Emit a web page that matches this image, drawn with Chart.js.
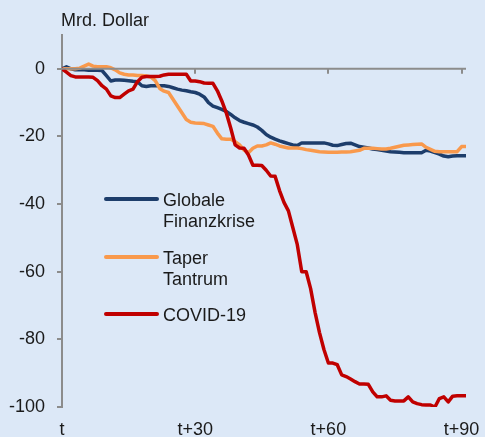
<!DOCTYPE html>
<html>
<head>
<meta charset="utf-8">
<script src="https://cdn.jsdelivr.net/npm/chart.js@4.4.1/dist/chart.umd.min.js"></script>
<style>
  html, body { margin: 0; padding: 0; background: #dce8f7; }
  canvas { display: block; }
</style>
</head>
<body>
<canvas id="chart" width="485" height="437"></canvas>
<script>
// days after the event, t = 0
const days = [
  0,1,2,3,4,5,6,7,8,9,10,11,12,13,14,15,16,17,18,19,20,21,22,23,24,25,26,27,28,29,30,
  31,32,33,34,35,36,37,38,39,40,41,42,43,44,45,46,47,48,49,50,51,52,53,54,55,56,57,58,59,60,
  61,62,63,64,65,66,67,68,69,70,71,72,73,74,75,76,77,78,79,80,81,82,83,84,85,86,87,88,89,90,91
];

// Mrd. Dollar
const finanzkrise = [
  0,0.6,0,-0.3,-0.3,-0.3,-0.4,-0.4,-0.4,-0.5,-2,-3.6,-3.3,-3.3,-3.4,-3.5,-3.7,-3.8,-5,-5.2,-5,
  -5,-5,-5,-5.2,-5.6,-6,-6.3,-6.5,-6.8,-7,-7.5,-8.3,-10,-11,-11.5,-12,-12.6,-13.5,-14.5,-15.3,
  -15.8,-16.2,-16.6,-17.2,-18.2,-19.4,-20.2,-20.8,-21.3,-21.7,-22.1,-22.5,-22.7,-21.9,-21.9,-21.9,-21.9,-21.9,-21.9,-22.2,
  -22.6,-22.7,-22.4,-22.1,-22,-22.5,-23,-23.2,-23.4,-23.7,-23.9,-24.1,-24.3,-24.5,-24.6,-24.7,-24.8,-24.8,-24.8,-24.8,
  -24.8,-24.1,-24.3,-24.8,-25.2,-25.8,-26,-25.8,-25.7,-25.7,-25.7
];

const taperTantrum = [
  0,0,0,0,0.2,0.8,1.4,0.8,0.6,0.6,0.6,0.3,-0.3,-1.2,-1.6,-1.8,-1.8,-2,-2,-2.1,-2.4,
  -3.5,-5.8,-6.6,-7,-9,-11,-13,-15,-15.8,-16,-16.1,-16.2,-16.6,-17,-19,-20.7,-20.8,-20.8,-21.5,-22.5,
  -24,-24.8,-23.5,-22.8,-22.8,-22.5,-21.9,-22.3,-22.8,-23.1,-23.4,-23.4,-23.4,-23.6,-23.9,-24.1,-24.3,-24.5,-24.6,-24.7,
  -24.7,-24.7,-24.6,-24.6,-24.5,-24.3,-24.1,-23.5,-23.5,-23.5,-23.6,-23.7,-23.7,-23.5,-23.2,-22.9,-22.6,-22.5,-22.4,-22.3,
  -22.2,-23.2,-23.8,-24.4,-24.5,-24.5,-24.5,-24.5,-24.5,-23,-23
];

const covid = [
  0,-1,-2,-2.4,-2.4,-2.4,-2.4,-2.5,-3.5,-5,-6,-8,-8.5,-8.5,-7.5,-6.5,-6,-3.8,-2.5,-2.3,-2.3,
  -2.3,-2.2,-1.8,-1.6,-1.6,-1.6,-1.6,-1.6,-3.6,-3.6,-3.8,-4.2,-4.3,-4.3,-6.5,-9.5,-13,-17.5,-22.5,-23.4,
  -23.5,-25.5,-28.5,-28.5,-28.6,-30,-31.7,-31.8,-36,-39.5,-42,-47,-52,-60,-60,-65,-72,-78,-83,-87,
  -87,-87.5,-90.5,-91,-91.7,-92.5,-93.2,-93.2,-93.3,-95.5,-97,-97,-96.7,-98,-98.2,-98.2,-98.2,-97,-98.5,-99,
  -99.3,-99.4,-99.4,-100,-97.5,-97,-98.5,-96.8,-96.7,-96.7,-96.7
];

const xTickDays = [0, 30, 60, 90];
const xTickLabels = ['t', 't+30', 't+60', 't+90'];
const yTicks = [0, -20, -40, -60, -80, -100];

const seriesNames = ['Globale\nFinanzkrise', 'Taper\nTantrum', 'COVID-19'];
const seriesColors = ['#1d3d6b', '#f9994c', '#c00000'];

const AXIS_GREY = '#8c8c8c';
const FONT = '"Liberation Sans", Arial, sans-serif';

function toPoints(values) {
  return values.map((v, i) => ({ x: days[i], y: v }));
}

// x axis line sits on y = 0, title and legend are drawn by hand
const decorations = {
  id: 'decorations',
  afterDatasetsDraw(chart) {
    const ctx = chart.ctx;
    const x = chart.scales.x;
    const y = chart.scales.y;
    const y0 = y.getPixelForValue(0);

    ctx.save();
    ctx.strokeStyle = AXIS_GREY;
    ctx.lineWidth = 2;
    ctx.beginPath();
    ctx.moveTo(x.left, y0);
    ctx.lineTo(x.right, y0);
    xTickDays.slice(1).forEach(d => {
      const px = Math.round(x.getPixelForValue(d));
      ctx.moveTo(px, y0);
      ctx.lineTo(px, y0 + 5);
    });
    ctx.stroke();

    ctx.fillStyle = '#1a1a1a';
    ctx.font = '18px ' + FONT;
    ctx.textAlign = 'left';
    ctx.textBaseline = 'alphabetic';
    ctx.fillText('Mrd. Dollar', 61, 26);

    // legend
    const legendRows = [199, 257, 314];
    seriesNames.forEach((name, i) => {
      const ly = legendRows[i];
      ctx.strokeStyle = seriesColors[i];
      ctx.lineWidth = 4;
      ctx.lineCap = 'round';
      ctx.beginPath();
      ctx.moveTo(106, ly);
      ctx.lineTo(157, ly);
      ctx.stroke();
      ctx.fillStyle = '#1a1a1a';
      name.split('\n').forEach((line, j) => {
        ctx.fillText(line, 163, ly + 7 + j * 21);
      });
    });
    ctx.restore();
  }
};

new Chart(document.getElementById('chart'), {
  type: 'line',
  data: {
    datasets: [
      {
        label: 'Globale Finanzkrise',
        data: toPoints(finanzkrise),
        borderColor: seriesColors[0],
        order: 3
      },
      {
        label: 'Taper Tantrum',
        data: toPoints(taperTantrum),
        borderColor: seriesColors[1],
        order: 2
      },
      {
        label: 'COVID-19',
        data: toPoints(covid),
        borderColor: seriesColors[2],
        order: 1
      }
    ]
  },
  options: {
    responsive: false,
    animation: false,
    events: [],
    layout: { padding: { top: 35, right: 19, left: 0, bottom: 0 } },
    elements: {
      point: { radius: 0 },
      line: { borderWidth: 3.5, tension: 0, fill: false, borderJoinStyle: 'round', borderCapStyle: 'round' }
    },
    scales: {
      x: {
        type: 'linear',
        min: 0,
        max: 91,
        afterBuildTicks: axis => { axis.ticks = xTickDays.map(v => ({ value: v })); },
        afterFit: axis => {
          axis.height = 30;
          axis.paddingLeft = 0;
          axis.paddingRight = 0;
        },
        grid: { display: false, drawTicks: false },
        border: { display: false },
        ticks: {
          maxRotation: 0,
          autoSkip: false,
          padding: 12,
          color: '#1a1a1a',
          font: { family: FONT, size: 18 },
          callback: v => xTickLabels[xTickDays.indexOf(v)]
        }
      },
      y: {
        min: -100,
        max: 10,
        afterBuildTicks: axis => { axis.ticks = yTicks.map(v => ({ value: v })); },
        afterFit: axis => { axis.width = 62; },
        grid: {
          drawOnChartArea: false,
          drawTicks: true,
          tickLength: 5,
          color: AXIS_GREY,
          lineWidth: 2
        },
        border: { display: true, color: AXIS_GREY, width: 2 },
        ticks: {
          padding: 12,
          color: '#1a1a1a',
          font: { family: FONT, size: 18 }
        }
      }
    },
    plugins: {
      legend: { display: false },
      tooltip: { enabled: false }
    }
  },
  plugins: [decorations]
});
</script>
</body>
</html>
